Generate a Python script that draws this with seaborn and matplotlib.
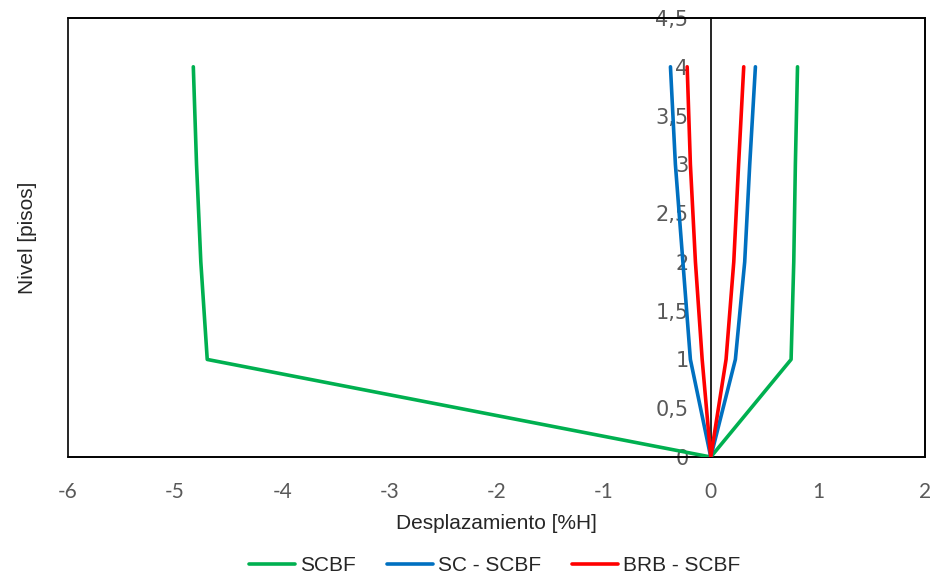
import matplotlib
matplotlib.use("Agg")
import matplotlib.pyplot as plt
from matplotlib.patches import Rectangle
import seaborn as sns
import pandas as pd

# niveles (pisos) y desplazamientos [%H], lado negativo y positivo
niveles = [4, 3, 2, 1, 0, 1, 2, 3, 4]
scbf = [-4.83, -4.80, -4.76, -4.70, 0, 0.75, 0.775, 0.79, 0.81]
sc_scbf = [-0.376, -0.33, -0.26, -0.19, 0, 0.23, 0.317, 0.364, 0.417]
brb_scbf = [-0.22, -0.19, -0.143, -0.08, 0, 0.143, 0.215, 0.26, 0.308]

series = ["SCBF", "SC - SCBF", "BRB - SCBF"]
colores = ["#00B050", "#0070C0", "#FF0000"]

y_ticks = [0, 0.5, 1, 1.5, 2, 2.5, 3, 3.5, 4, 4.5]
y_labels = ["0", "0,5", "1", "1,5", "2", "2,5", "3", "3,5", "4", "4,5"]
x_ticks = [-6, -5, -4, -3, -2, -1, 0, 1, 2]

filas = []
for nombre, vals in zip(series, [scbf, sc_scbf, brb_scbf]):
    for i, (d, n) in enumerate(zip(vals, niveles)):
        filas.append({"serie": nombre, "orden": i, "desp": d, "nivel": n})
df = pd.DataFrame(filas)

sns.set_style("white")
fig = plt.figure(figsize=(9.35, 5.81), dpi=100)
ax = fig.add_axes([0.0727, 0.2134, 0.9166, 0.7556])

sns.lineplot(data=df, x="desp", y="nivel", hue="serie", palette=colores,
             hue_order=series, sort=False, estimator=None, linewidth=2.6,
             ax=ax, zorder=3)

ax.set_xlim(-6, 2)
ax.set_ylim(0, 4.5)
ax.set_xticks(x_ticks)
ax.set_xticklabels([str(t) for t in x_ticks])
ax.set_yticks(y_ticks)
ax.set_yticklabels(y_labels)
ax.tick_params(length=0, labelsize=15, labelcolor="#595959")
ax.tick_params(axis="x", pad=18)
ax.tick_params(axis="y", pad=16)
for lab in ax.get_xticklabels() + ax.get_yticklabels():
    lab.set_family("Lato")

for s in ["top", "right", "bottom"]:
    ax.spines[s].set_color("black")
    ax.spines[s].set_linewidth(1.2)
ax.spines["left"].set_position(("data", 0))
ax.spines["left"].set_color("black")
ax.spines["left"].set_linewidth(1.2)
ax.add_patch(Rectangle((0, 0), 1, 1, transform=ax.transAxes, fill=False,
                       edgecolor="black", linewidth=1.2, clip_on=False))

ax.set_xlabel("Desplazamiento [%H]", fontsize=15, family="Liberation Sans")
ax.set_ylabel("Nivel [pisos]", fontsize=15, family="Liberation Sans")
ax.yaxis.set_label_coords(-0.036, 0.5)
ax.xaxis.set_label_coords(0.5, -0.13)

h, l = ax.get_legend_handles_labels()
ax.get_legend().remove()
fig.legend(h, l, loc="center", bbox_to_anchor=(0.529, 0.026), ncol=3,
           frameon=False, prop={"family": "Liberation Sans", "size": 15},
           handlelength=2.2, columnspacing=1.5, handletextpad=0.25)

fig.savefig("out.png", dpi=100)
